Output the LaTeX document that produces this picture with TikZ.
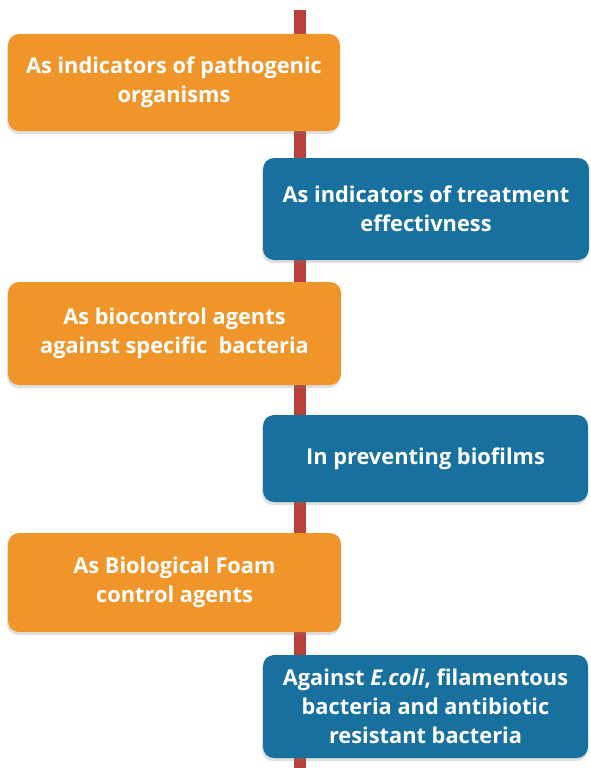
\documentclass[tikz,border=0pt]{standalone}
\usepackage{fontspec}
\setmainfont{Open Sans}
\usetikzlibrary{shadows}
\definecolor{boxorange}{HTML}{F0952A}
\definecolor{boxblue}{HTML}{17709D}
\definecolor{axisred}{HTML}{B8413A}
\tikzset{
  item/.style={rounded corners=11pt, text=white, align=center,
    font=\fontsize{21.8}{29}\selectfont\bfseries, inner sep=0pt,
    drop shadow={shadow xshift=-1pt, shadow yshift=-3pt, opacity=0.25}},
  leftitem/.style={item, fill=boxorange},
  rightitem/.style={item, fill=boxblue},
  axis/.style={draw=axisred, line width=12pt}
}
\begin{document}
\begin{tikzpicture}[x=1pt, y=-1pt]
  \useasboundingbox (0,0) rectangle (590,768);
  % the time axis runs behind all boxes
  \coordinate (top) at (300,10);
  \coordinate (bottom) at (300,768);
  \draw[axis] (top) -- (bottom);
  \node[leftitem, minimum width=332pt, minimum height=97pt] (b1) at (174,82.5)
    {As indicators of pathogenic\\organisms};
  \node[rightitem, minimum width=326pt, minimum height=102pt] (b2) at (426,209)
    {As indicators of treatment\\effectivness};
  \node[leftitem, minimum width=333pt, minimum height=103pt] (b3) at (174.5,333.5)
    {As biocontrol agents\\against specific\ \ bacteria};
  \node[rightitem, minimum width=325pt, minimum height=87pt] (b4) at (425.5,458.5)
    {In preventing biofilms};
  \node[leftitem, minimum width=333pt, minimum height=99pt] (b5) at (174.5,582.5)
    {As Biological Foam\\control agents};
  \node[rightitem, minimum width=325pt, minimum height=103pt] (b6) at (425.5,706.5)
    {Against \textit{E.coli}, filamentous\\bacteria and antibiotic\\resistant bacteria};
\end{tikzpicture}
\end{document}
